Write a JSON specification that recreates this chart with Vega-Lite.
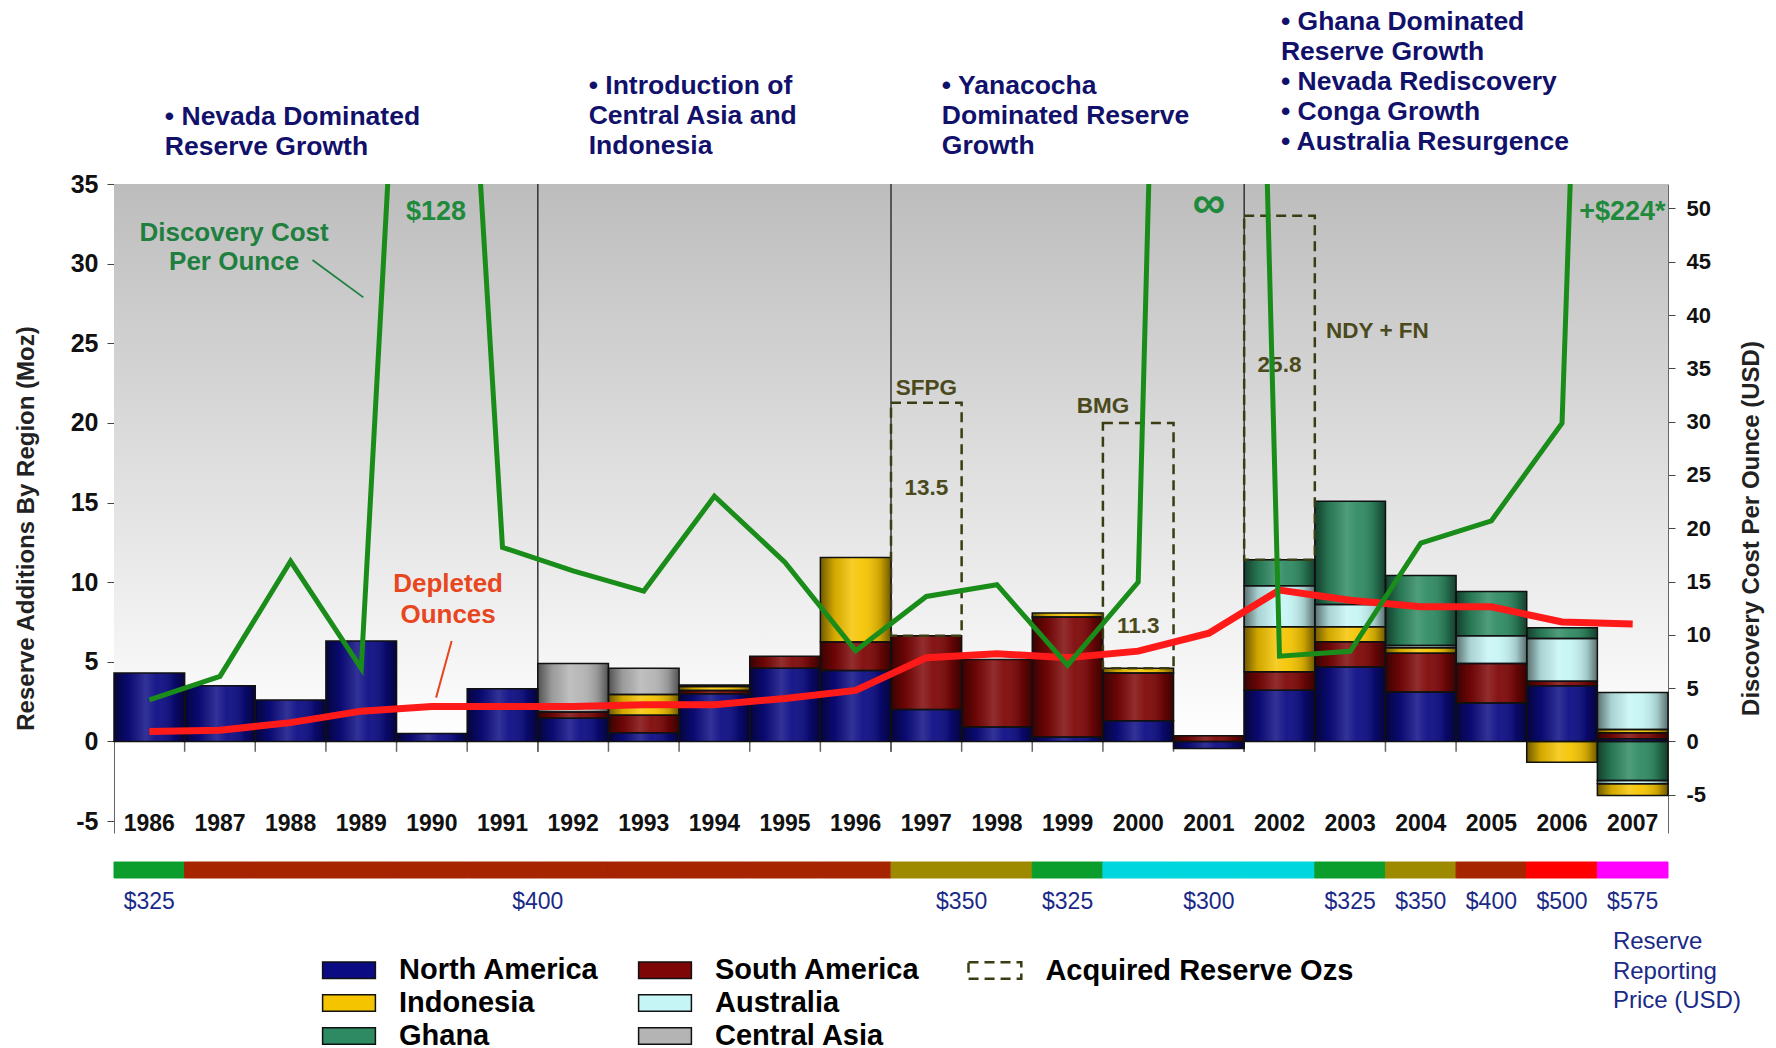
{
 "$schema": "https://vega.github.io/schema/vega-lite/v6.json",
 "background": "white",
 "padding": {"left": 14, "top": 8, "right": 5, "bottom": 0},
 "bounds": "flush",
 "spacing": 29,
 "config": {"view": {"stroke": null}, "axis": {"grid": false}, "font": "Liberation Sans"},
 "datasets": {
  "reserves": [
   {"year":1986,"region":"North America","value":4.3},
   {"year":1987,"region":"North America","value":3.5},
   {"year":1988,"region":"North America","value":2.6},
   {"year":1989,"region":"North America","value":6.3},
   {"year":1990,"region":"North America","value":0.5},
   {"year":1991,"region":"North America","value":3.3},
   {"year":1992,"region":"North America","value":1.45},
   {"year":1992,"region":"South America","value":0.4},
   {"year":1992,"region":"Central Asia","value":3.05},
   {"year":1993,"region":"North America","value":0.55},
   {"year":1993,"region":"South America","value":1.1},
   {"year":1993,"region":"Indonesia","value":1.3},
   {"year":1993,"region":"Central Asia","value":1.65},
   {"year":1994,"region":"North America","value":3.0},
   {"year":1994,"region":"South America","value":0.2},
   {"year":1994,"region":"Indonesia","value":0.25},
   {"year":1994,"region":"Central Asia","value":0.1},
   {"year":1995,"region":"North America","value":4.6},
   {"year":1995,"region":"South America","value":0.75},
   {"year":1996,"region":"North America","value":4.45},
   {"year":1996,"region":"South America","value":1.8},
   {"year":1996,"region":"Indonesia","value":5.3},
   {"year":1997,"region":"North America","value":2.0},
   {"year":1997,"region":"South America","value":4.64},
   {"year":1998,"region":"North America","value":0.9},
   {"year":1998,"region":"South America","value":4.25},
   {"year":1999,"region":"North America","value":0.27},
   {"year":1999,"region":"South America","value":7.55},
   {"year":1999,"region":"Indonesia","value":0.25},
   {"year":2000,"region":"North America","value":1.3},
   {"year":2000,"region":"South America","value":3.0},
   {"year":2000,"region":"Indonesia","value":0.3},
   {"year":2001,"region":"North America","value":-0.45},
   {"year":2001,"region":"South America","value":0.35},
   {"year":2002,"region":"North America","value":3.21},
   {"year":2002,"region":"South America","value":1.16},
   {"year":2002,"region":"Indonesia","value":2.83},
   {"year":2002,"region":"Australia","value":2.57},
   {"year":2002,"region":"Ghana","value":1.64},
   {"year":2003,"region":"North America","value":4.68},
   {"year":2003,"region":"South America","value":1.58},
   {"year":2003,"region":"Indonesia","value":0.94},
   {"year":2003,"region":"Australia","value":1.4},
   {"year":2003,"region":"Ghana","value":6.48},
   {"year":2004,"region":"North America","value":3.1},
   {"year":2004,"region":"South America","value":2.43},
   {"year":2004,"region":"Indonesia","value":0.35},
   {"year":2004,"region":"Australia","value":0.15},
   {"year":2004,"region":"Ghana","value":4.39},
   {"year":2005,"region":"North America","value":2.42},
   {"year":2005,"region":"South America","value":2.48},
   {"year":2005,"region":"Australia","value":1.74},
   {"year":2005,"region":"Ghana","value":2.77},
   {"year":2006,"region":"North America","value":3.49},
   {"year":2006,"region":"South America","value":0.29},
   {"year":2006,"region":"Australia","value":2.69},
   {"year":2006,"region":"Ghana","value":0.67},
   {"year":2006,"region":"Indonesia","value":-1.3},
   {"year":2007,"region":"North America","value":0.17},
   {"year":2007,"region":"South America","value":0.38},
   {"year":2007,"region":"Indonesia","value":0.2},
   {"year":2007,"region":"Australia","value":2.32},
   {"year":2007,"region":"Ghana","value":-2.46},
   {"year":2007,"region":"Australia","value":-0.2},
   {"year":2007,"region":"Indonesia","value":-0.74}
  ],
  "series": [
   {"year":1986,"depleted":0.63,"cost":3.9,"price":325},
   {"year":1987,"depleted":0.7,"cost":6.1,"price":400},
   {"year":1988,"depleted":1.18,"cost":16.9,"price":400},
   {"year":1989,"depleted":1.9,"cost":6.85,"price":400},
   {"year":1990,"depleted":2.2,"cost":128,"price":400},
   {"year":1991,"depleted":2.2,"cost":18.2,"price":400},
   {"year":1992,"depleted":2.2,"cost":16.0,"price":400},
   {"year":1993,"depleted":2.3,"cost":14.1,"price":400},
   {"year":1994,"depleted":2.3,"cost":23.0,"price":400},
   {"year":1995,"depleted":2.7,"cost":16.8,"price":400},
   {"year":1996,"depleted":3.2,"cost":8.5,"price":400},
   {"year":1997,"depleted":5.26,"cost":13.6,"price":350},
   {"year":1998,"depleted":5.5,"cost":14.7,"price":350},
   {"year":1999,"depleted":5.26,"cost":7.15,"price":325},
   {"year":2000,"depleted":5.67,"cost":14.95,"price":300},
   {"year":2001,"depleted":6.8,"cost":265,"price":300},
   {"year":2002,"depleted":9.5,"cost":8.0,"price":300},
   {"year":2003,"depleted":8.87,"cost":8.45,"price":325},
   {"year":2004,"depleted":8.45,"cost":18.6,"price":350},
   {"year":2005,"depleted":8.45,"cost":20.7,"price":400},
   {"year":2006,"depleted":7.5,"cost":29.85,"price":500},
   {"year":2007,"depleted":7.38,"cost":224,"price":575}
  ],
  "acquired": [
   {"year":1997,"name":"SFPG","amount":13.5,"from":6.64,"to":21.26,"kind":"Acquired Reserve Ozs"},
   {"year":2000,"name":"BMG","amount":11.3,"from":4.6,"to":20.0,"kind":"Acquired Reserve Ozs"},
   {"year":2002,"name":"NDY + FN","amount":25.8,"from":11.41,"to":33.0,"kind":"Acquired Reserve Ozs"}
  ],
  "eraStarts": [{"year":1992},{"year":1997},{"year":2002}]
 },
 "vconcat": [
  {
   "width": 1554,
   "height": 649,
   "layer": [
    {
     "layer": [
      {
       "data": {"name": "reserves"},
       "transform": [{"calculate": "indexof(['North America','South America','Indonesia','Australia','Ghana','Central Asia'], datum.region) * (datum.value < 0 ? -1 : 1)", "as": "ord"}],
       "mark": {"type": "bar", "opacity": 0},
       "encoding": {
        "x": {"field": "year", "type": "ordinal", "scale": {"type": "band", "domain": [1986,1987,1988,1989,1990,1991,1992,1993,1994,1995,1996,1997,1998,1999,2000,2001,2002,2003,2004,2005,2006,2007], "paddingInner": 0, "paddingOuter": 0},
         "axis": {"orient": "bottom", "title": null, "domain": false, "ticks": false, "labelAngle": 0, "labelBaseline": "middle", "labelPadding": -9.5, "labelFont": "Liberation Sans", "labelFontWeight": "bold", "labelFontSize": 23, "labelColor": "#111111"}},
        "y": {"field": "value", "type": "quantitative", "stack": "zero", "scale": {"domain": [-5.75, 35], "nice": false, "zero": false},
         "axis": {"orient": "left", "values": [-5,0,5,10,15,20,25,30,35], "labelExpr": "'' + datum.value", "title": "Reserve Additions By Region (Moz)", "titleX": -88, "titleY": 344, "titleAngle": 270, "titleAlign": "center", "titleBaseline": "middle", "titleFont": "Liberation Sans", "titleFontWeight": "bold", "titleFontSize": 24, "titleColor": "#222222", "labelFont": "Liberation Sans", "labelFontWeight": "bold", "labelFontSize": 25, "labelColor": "#111111", "labelPadding": 9, "tickSize": 7, "tickColor": "#444444", "domainColor": "#666666"}},
        "order": {"field": "ord", "type": "quantitative"},
        "detail": {"field": "region", "type": "nominal"}
       }
      },
      {
       "data": {"values": [{"part": "background"}]},
       "mark": {"type": "rect", "fill": {"gradient": "linear", "x1": 0, "y1": 0, "x2": 0, "y2": 1, "stops": [{"offset": 0, "color": "#bdbdbd"}, {"offset": 1, "color": "#ffffff"}]}},
       "encoding": {
        "y": {"datum": 35, "type": "quantitative", "scale": {"domain": [-5.75, 35], "nice": false, "zero": false}},
        "y2": {"datum": 0}
       }
      },
      {
       "data": {"name": "eraStarts"},
       "mark": {"type": "rule", "color": "#333333", "strokeWidth": 1.5},
       "encoding": {
        "x": {"field": "year", "type": "ordinal", "bandPosition": 0, "scale": {"type": "band", "domain": [1986,1987,1988,1989,1990,1991,1992,1993,1994,1995,1996,1997,1998,1999,2000,2001,2002,2003,2004,2005,2006,2007], "paddingInner": 0, "paddingOuter": 0}},
        "y": {"datum": 35, "type": "quantitative", "scale": {"domain": [-5.75, 35], "nice": false, "zero": false}},
        "y2": {"datum": -0.65}
       }
      },
      {
       "data": {"name": "series"},
       "transform": [{"filter": "datum.year > 1986"}],
       "mark": {"type": "rule", "color": "#666666", "strokeWidth": 1.5},
       "encoding": {
        "x": {"field": "year", "type": "ordinal", "bandPosition": 0, "scale": {"type": "band", "domain": [1986,1987,1988,1989,1990,1991,1992,1993,1994,1995,1996,1997,1998,1999,2000,2001,2002,2003,2004,2005,2006,2007], "paddingInner": 0, "paddingOuter": 0}},
        "y": {"datum": 0, "type": "quantitative", "scale": {"domain": [-5.75, 35], "nice": false, "zero": false}},
        "y2": {"datum": -0.65}
       }
      },
      {
       "data": {"name": "reserves"},
       "transform": [{"calculate": "indexof(['North America','South America','Indonesia','Australia','Ghana','Central Asia'], datum.region) * (datum.value < 0 ? -1 : 1)", "as": "ord"}],
       "mark": {"type": "bar"},
       "encoding": {
        "x": {"field": "year", "type": "ordinal", "scale": {"type": "band", "domain": [1986,1987,1988,1989,1990,1991,1992,1993,1994,1995,1996,1997,1998,1999,2000,2001,2002,2003,2004,2005,2006,2007], "paddingInner": 0, "paddingOuter": 0}},
        "y": {"field": "value", "type": "quantitative", "stack": "zero", "scale": {"domain": [-5.75, 35], "nice": false, "zero": false}},
        "fill": {"field": "region", "type": "nominal",
         "scale": {"domain": ["North America", "South America", "Indonesia", "Australia", "Ghana", "Central Asia"], "range": ["#0b0b84", "#7e0606", "#f5c400", "#c6f5f5", "#2e8a62", "#b4b4b4"]},
         "legend": {"orient": "none", "legendX": 217.5, "legendY": 768.5, "direction": "horizontal", "title": null, "columns": 2, "columnPadding": 36, "rowPadding": 0, "padding": 0, "symbolType": "M-1.6,-0.5H1.6V0.5H-1.6Z", "symbolSize": 1089, "symbolStrokeColor": "#111111", "symbolStrokeWidth": 1.5, "symbolOpacity": 1, "labelFont": "Liberation Sans", "labelFontWeight": "bold", "labelFontSize": 29, "labelColor": "#000000", "labelOffset": 32.5, "labelLimit": 500}},
        "order": {"field": "ord", "type": "quantitative"}
       }
      },
      {
       "data": {"name": "reserves"},
       "transform": [{"calculate": "indexof(['North America','South America','Indonesia','Australia','Ghana','Central Asia'], datum.region) * (datum.value < 0 ? -1 : 1)", "as": "ord"}],
       "mark": {"type": "bar", "stroke": "#111111", "strokeWidth": 1.5, "fill": {"gradient": "linear", "x1": 0, "y1": 0, "x2": 1, "y2": 0, "stops": [{"offset": 0, "color": "rgba(0,0,0,0.55)"}, {"offset": 0.2, "color": "rgba(0,0,0,0.14)"}, {"offset": 0.45, "color": "rgba(255,255,255,0.16)"}, {"offset": 0.6, "color": "rgba(255,255,255,0.06)"}, {"offset": 0.85, "color": "rgba(0,0,0,0.18)"}, {"offset": 1, "color": "rgba(0,0,0,0.55)"}]}},
       "encoding": {
        "x": {"field": "year", "type": "ordinal", "scale": {"type": "band", "domain": [1986,1987,1988,1989,1990,1991,1992,1993,1994,1995,1996,1997,1998,1999,2000,2001,2002,2003,2004,2005,2006,2007], "paddingInner": 0, "paddingOuter": 0}},
        "y": {"field": "value", "type": "quantitative", "stack": "zero", "scale": {"domain": [-5.75, 35], "nice": false, "zero": false}},
        "detail": {"field": "region", "type": "nominal"},
        "order": {"field": "ord", "type": "quantitative"}
       }
      },
      {
       "data": {"name": "acquired"},
       "mark": {"type": "bar", "filled": false, "color": "#3c3c14", "strokeWidth": 2.5},
       "encoding": {
        "x": {"field": "year", "type": "ordinal", "scale": {"type": "band", "domain": [1986,1987,1988,1989,1990,1991,1992,1993,1994,1995,1996,1997,1998,1999,2000,2001,2002,2003,2004,2005,2006,2007], "paddingInner": 0, "paddingOuter": 0}},
        "y": {"field": "from", "type": "quantitative", "scale": {"domain": [-5.75, 35], "nice": false, "zero": false}},
        "y2": {"field": "to"},
        "strokeDash": {"field": "kind", "type": "nominal", "scale": {"range": [[10, 6]]},
         "legend": {"orient": "none", "legendX": 862.9, "legendY": 768.5, "title": null, "padding": 0, "symbolType": "M-1.6,-0.5H1.6V0.5H-1.6Z", "symbolSize": 1089, "symbolStrokeColor": "#3c3c14", "symbolStrokeWidth": 2.5, "symbolFillColor": "#e6e6e6", "symbolOpacity": 1, "labelFont": "Liberation Sans", "labelFontWeight": "bold", "labelFontSize": 29, "labelColor": "#000000", "labelOffset": 32.5, "labelLimit": 500}}
       }
      },
      {
       "data": {"name": "series"},
       "mark": {"type": "line", "color": "#ff1a1a", "strokeWidth": 7},
       "encoding": {
        "x": {"field": "year", "type": "ordinal", "scale": {"type": "band", "domain": [1986,1987,1988,1989,1990,1991,1992,1993,1994,1995,1996,1997,1998,1999,2000,2001,2002,2003,2004,2005,2006,2007], "paddingInner": 0, "paddingOuter": 0}},
        "y": {"field": "depleted", "type": "quantitative", "scale": {"domain": [-5.75, 35], "nice": false, "zero": false}}
       }
      },
      {
       "data": {"values": [{"x1": 1988, "x2": 1989, "y1": 30.23, "y2": 27.88}]},
       "mark": {"type": "rule", "color": "#1f7f3f", "strokeWidth": 1.8},
       "encoding": {
        "x": {"field": "x1", "type": "ordinal", "bandPosition": 0.81, "scale": {"type": "band", "domain": [1986,1987,1988,1989,1990,1991,1992,1993,1994,1995,1996,1997,1998,1999,2000,2001,2002,2003,2004,2005,2006,2007], "paddingInner": 0, "paddingOuter": 0}},
        "x2": {"field": "x2", "bandPosition": 0.53},
        "y": {"field": "y1", "type": "quantitative", "scale": {"domain": [-5.75, 35], "nice": false, "zero": false}},
        "y2": {"field": "y2"}
       }
      },
      {
       "data": {"values": [{"x1": 1990, "x2": 1990, "y1": 6.31, "y2": 2.75}]},
       "mark": {"type": "rule", "color": "#e8461e", "strokeWidth": 2},
       "encoding": {
        "x": {"field": "x1", "type": "ordinal", "bandPosition": 0.78, "scale": {"type": "band", "domain": [1986,1987,1988,1989,1990,1991,1992,1993,1994,1995,1996,1997,1998,1999,2000,2001,2002,2003,2004,2005,2006,2007], "paddingInner": 0, "paddingOuter": 0}},
        "x2": {"field": "x2", "bandPosition": 0.56},
        "y": {"field": "y1", "type": "quantitative", "scale": {"domain": [-5.75, 35], "nice": false, "zero": false}},
        "y2": {"field": "y2"}
       }
      },
      {
       "data": {"values": [
        {"year": 1986, "y": 40.03, "text": ["• Nevada Dominated", "\u00a0\u00a0\u00a0Reserve Growth"]},
        {"year": 1992, "y": 41.95, "text": ["• Introduction of", "\u00a0\u00a0\u00a0Central Asia and", "\u00a0\u00a0\u00a0Indonesia"]},
        {"year": 1997, "y": 41.95, "text": ["• Yanacocha", "\u00a0\u00a0\u00a0Dominated Reserve", "\u00a0\u00a0\u00a0Growth"]}
       ]},
       "mark": {"type": "text", "align": "left", "baseline": "top", "font": "Liberation Sans", "fontWeight": "bold", "fontSize": 26.5, "lineHeight": 30, "color": "#11116b"},
       "encoding": {
        "x": {"field": "year", "type": "ordinal", "bandPosition": 0.72, "scale": {"type": "band", "domain": [1986,1987,1988,1989,1990,1991,1992,1993,1994,1995,1996,1997,1998,1999,2000,2001,2002,2003,2004,2005,2006,2007], "paddingInner": 0, "paddingOuter": 0}},
        "y": {"field": "y", "type": "quantitative", "scale": {"domain": [-5.75, 35], "nice": false, "zero": false}},
        "text": {"field": "text"}
       }
      },
      {
       "data": {"values": [
        {"year": 2002, "y": 46.0, "text": ["• Ghana Dominated", "\u00a0\u00a0\u00a0Reserve Growth", "• Nevada Rediscovery", "• Conga Growth", "• Australia Resurgence"]}
       ]},
       "mark": {"type": "text", "align": "left", "baseline": "top", "font": "Liberation Sans", "fontWeight": "bold", "fontSize": 26.5, "lineHeight": 30, "color": "#11116b"},
       "encoding": {
        "x": {"field": "year", "type": "ordinal", "bandPosition": 0.52, "scale": {"type": "band", "domain": [1986,1987,1988,1989,1990,1991,1992,1993,1994,1995,1996,1997,1998,1999,2000,2001,2002,2003,2004,2005,2006,2007], "paddingInner": 0, "paddingOuter": 0}},
        "y": {"field": "y", "type": "quantitative", "scale": {"domain": [-5.75, 35], "nice": false, "zero": false}},
        "text": {"field": "text"}
       }
      },
      {
       "data": {"values": [{"year": 1990, "y": 33.22, "text": "$128"}]},
       "mark": {"type": "text", "align": "center", "baseline": "middle", "font": "Liberation Sans", "fontWeight": "bold", "fontSize": 27, "color": "#1f8a3c"},
       "encoding": {
        "x": {"field": "year", "type": "ordinal", "bandPosition": 0.56, "scale": {"type": "band", "domain": [1986,1987,1988,1989,1990,1991,1992,1993,1994,1995,1996,1997,1998,1999,2000,2001,2002,2003,2004,2005,2006,2007], "paddingInner": 0, "paddingOuter": 0}},
        "y": {"field": "y", "type": "quantitative", "scale": {"domain": [-5.75, 35], "nice": false, "zero": false}},
        "text": {"field": "text"}
       }
      },
      {
       "data": {"values": [{"year": 2001, "y": 33.72, "text": "∞"}]},
       "mark": {"type": "text", "align": "center", "baseline": "middle", "font": "Liberation Sans", "fontWeight": "bold", "fontSize": 46, "color": "#1f8a3c"},
       "encoding": {
        "x": {"field": "year", "type": "ordinal", "scale": {"type": "band", "domain": [1986,1987,1988,1989,1990,1991,1992,1993,1994,1995,1996,1997,1998,1999,2000,2001,2002,2003,2004,2005,2006,2007], "paddingInner": 0, "paddingOuter": 0}},
        "y": {"field": "y", "type": "quantitative", "scale": {"domain": [-5.75, 35], "nice": false, "zero": false}},
        "text": {"field": "text"}
       }
      },
      {
       "data": {"values": [{"year": 2007, "y": 33.22, "text": "+$224*"}]},
       "mark": {"type": "text", "align": "right", "baseline": "middle", "font": "Liberation Sans", "fontWeight": "bold", "fontSize": 27, "color": "#1f8a3c"},
       "encoding": {
        "x": {"field": "year", "type": "ordinal", "bandPosition": 0.965, "scale": {"type": "band", "domain": [1986,1987,1988,1989,1990,1991,1992,1993,1994,1995,1996,1997,1998,1999,2000,2001,2002,2003,2004,2005,2006,2007], "paddingInner": 0, "paddingOuter": 0}},
        "y": {"field": "y", "type": "quantitative", "scale": {"domain": [-5.75, 35], "nice": false, "zero": false}},
        "text": {"field": "text"}
       }
      },
      {
       "data": {"values": [{"year": 1987, "y": 32.77, "text": ["Discovery Cost", "Per Ounce"]}]},
       "mark": {"type": "text", "align": "center", "baseline": "top", "font": "Liberation Sans", "fontWeight": "bold", "fontSize": 26, "lineHeight": 29.4, "color": "#1f7f3f"},
       "encoding": {
        "x": {"field": "year", "type": "ordinal", "bandPosition": 0.7, "scale": {"type": "band", "domain": [1986,1987,1988,1989,1990,1991,1992,1993,1994,1995,1996,1997,1998,1999,2000,2001,2002,2003,2004,2005,2006,2007], "paddingInner": 0, "paddingOuter": 0}},
        "y": {"field": "y", "type": "quantitative", "scale": {"domain": [-5.75, 35], "nice": false, "zero": false}},
        "text": {"field": "text"}
       }
      },
      {
       "data": {"values": [{"year": 1990, "y": 10.69, "text": ["Depleted", "Ounces"]}]},
       "mark": {"type": "text", "align": "center", "baseline": "top", "font": "Liberation Sans", "fontWeight": "bold", "fontSize": 26, "lineHeight": 30.5, "color": "#e8461e"},
       "encoding": {
        "x": {"field": "year", "type": "ordinal", "bandPosition": 0.73, "scale": {"type": "band", "domain": [1986,1987,1988,1989,1990,1991,1992,1993,1994,1995,1996,1997,1998,1999,2000,2001,2002,2003,2004,2005,2006,2007], "paddingInner": 0, "paddingOuter": 0}},
        "y": {"field": "y", "type": "quantitative", "scale": {"domain": [-5.75, 35], "nice": false, "zero": false}},
        "text": {"field": "text"}
       }
      },
      {
       "data": {"values": [
        {"year": 1997, "y": 22.18, "text": "SFPG"},
        {"year": 1997, "y": 15.92, "text": "13.5"},
        {"year": 2000, "y": 7.24, "text": "11.3"},
        {"year": 2002, "y": 23.61, "text": "25.8"}
       ]},
       "mark": {"type": "text", "align": "center", "baseline": "middle", "font": "Liberation Sans", "fontWeight": "bold", "fontSize": 22.5, "color": "#4a4a1c"},
       "encoding": {
        "x": {"field": "year", "type": "ordinal", "scale": {"type": "band", "domain": [1986,1987,1988,1989,1990,1991,1992,1993,1994,1995,1996,1997,1998,1999,2000,2001,2002,2003,2004,2005,2006,2007], "paddingInner": 0, "paddingOuter": 0}},
        "y": {"field": "y", "type": "quantitative", "scale": {"domain": [-5.75, 35], "nice": false, "zero": false}},
        "text": {"field": "text"}
       }
      },
      {
       "data": {"values": [{"year": 2000, "y": 21.05, "text": "BMG"}]},
       "mark": {"type": "text", "align": "center", "baseline": "middle", "font": "Liberation Sans", "fontWeight": "bold", "fontSize": 22.5, "color": "#4a4a1c"},
       "encoding": {
        "x": {"field": "year", "type": "ordinal", "bandPosition": 0, "scale": {"type": "band", "domain": [1986,1987,1988,1989,1990,1991,1992,1993,1994,1995,1996,1997,1998,1999,2000,2001,2002,2003,2004,2005,2006,2007], "paddingInner": 0, "paddingOuter": 0}},
        "y": {"field": "y", "type": "quantitative", "scale": {"domain": [-5.75, 35], "nice": false, "zero": false}},
        "text": {"field": "text"}
       }
      },
      {
       "data": {"values": [{"year": 2003, "y": 25.75, "text": "NDY + FN"}]},
       "mark": {"type": "text", "align": "left", "baseline": "middle", "font": "Liberation Sans", "fontWeight": "bold", "fontSize": 22.5, "color": "#4a4a1c"},
       "encoding": {
        "x": {"field": "year", "type": "ordinal", "bandPosition": 0.16, "scale": {"type": "band", "domain": [1986,1987,1988,1989,1990,1991,1992,1993,1994,1995,1996,1997,1998,1999,2000,2001,2002,2003,2004,2005,2006,2007], "paddingInner": 0, "paddingOuter": 0}},
        "y": {"field": "y", "type": "quantitative", "scale": {"domain": [-5.75, 35], "nice": false, "zero": false}},
        "text": {"field": "text"}
       }
      }
     ]
    },
    {
     "data": {"name": "series"},
     "mark": {"type": "line", "color": "#1a8c1a", "strokeWidth": 5, "clip": true},
     "encoding": {
      "x": {"field": "year", "type": "ordinal", "scale": {"type": "band", "domain": [1986,1987,1988,1989,1990,1991,1992,1993,1994,1995,1996,1997,1998,1999,2000,2001,2002,2003,2004,2005,2006,2007], "paddingInner": 0, "paddingOuter": 0}},
      "y": {"field": "cost", "type": "quantitative", "scale": {"domain": [-8.59, 52.29], "nice": false, "zero": false},
       "axis": {"orient": "right", "values": [-5,0,5,10,15,20,25,30,35,40,45,50], "labelExpr": "'' + datum.value", "title": "Discovery Cost Per Ounce (USD)", "titleX": 83, "titleY": 344, "titleAngle": 270, "titleAlign": "center", "titleBaseline": "middle", "titleFont": "Liberation Sans", "titleFontWeight": "bold", "titleFontSize": 24, "titleColor": "#222222", "labelFont": "Liberation Sans", "labelFontWeight": "bold", "labelFontSize": 22, "labelColor": "#111111", "labelPadding": 11, "tickSize": 7, "tickColor": "#444444", "domainColor": "#666666"}}
     }
    }
   ],
   "resolve": {"scale": {"y": "independent"}}
  },
  {
   "width": 1554,
   "height": 16,
   "layer": [
    {
     "data": {"name": "series"},
     "mark": {"type": "rect", "strokeWidth": 1},
     "encoding": {
      "x": {"field": "year", "type": "ordinal", "scale": {"type": "band", "domain": [1986,1987,1988,1989,1990,1991,1992,1993,1994,1995,1996,1997,1998,1999,2000,2001,2002,2003,2004,2005,2006,2007], "paddingInner": 0, "paddingOuter": 0}, "axis": null},
      "color": {"field": "price", "type": "ordinal", "scale": {"domain": [300, 325, 350, 400, 500, 575], "range": ["#00d6de", "#0c9e2c", "#9e8a00", "#a62400", "#ff0000", "#ff00ff"]}, "legend": null},
      "stroke": {"field": "price", "type": "ordinal", "scale": {"domain": [300, 325, 350, 400, 500, 575], "range": ["#00d6de", "#0c9e2c", "#9e8a00", "#a62400", "#ff0000", "#ff00ff"]}, "legend": null}
     }
    },
    {
     "data": {"values": [
      {"year": 1986, "label": "$325"}, {"year": 1999, "label": "$325"}, {"year": 2001, "label": "$300"},
      {"year": 2003, "label": "$325"}, {"year": 2004, "label": "$350"}, {"year": 2005, "label": "$400"},
      {"year": 2006, "label": "$500"}, {"year": 2007, "label": "$575"}
     ]},
     "mark": {"type": "text", "align": "center", "baseline": "middle", "dy": 32, "font": "Liberation Sans", "fontSize": 23, "color": "#1a2a86"},
     "encoding": {
      "x": {"field": "year", "type": "ordinal", "scale": {"type": "band", "domain": [1986,1987,1988,1989,1990,1991,1992,1993,1994,1995,1996,1997,1998,1999,2000,2001,2002,2003,2004,2005,2006,2007], "paddingInner": 0, "paddingOuter": 0}, "axis": null},
      "text": {"field": "label"}
     }
    },
    {
     "data": {"values": [{"year": 1992, "label": "$400"}, {"year": 1998, "label": "$350"}]},
     "mark": {"type": "text", "align": "center", "baseline": "middle", "dy": 32, "font": "Liberation Sans", "fontSize": 23, "color": "#1a2a86"},
     "encoding": {
      "x": {"field": "year", "type": "ordinal", "bandPosition": 0, "scale": {"type": "band", "domain": [1986,1987,1988,1989,1990,1991,1992,1993,1994,1995,1996,1997,1998,1999,2000,2001,2002,2003,2004,2005,2006,2007], "paddingInner": 0, "paddingOuter": 0}, "axis": null},
      "text": {"field": "label"}
     }
    },
    {
     "data": {"values": [{"year": 2007, "text": ["Reserve", "Reporting", "Price (USD)"]}]},
     "mark": {"type": "text", "align": "left", "baseline": "top", "dy": 60, "font": "Liberation Sans", "fontSize": 24, "lineHeight": 29.5, "color": "#1a2a86"},
     "encoding": {
      "x": {"field": "year", "type": "ordinal", "bandPosition": 0.22, "scale": {"type": "band", "domain": [1986,1987,1988,1989,1990,1991,1992,1993,1994,1995,1996,1997,1998,1999,2000,2001,2002,2003,2004,2005,2006,2007], "paddingInner": 0, "paddingOuter": 0}, "axis": null},
      "text": {"field": "text"}
     }
    }
   ]
  }
 ]
}
